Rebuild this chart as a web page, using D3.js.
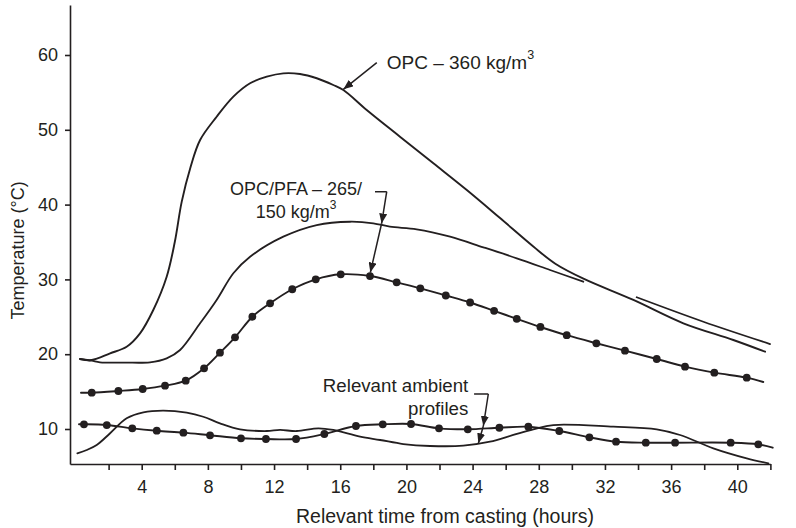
<!DOCTYPE html>
<html><head><meta charset="utf-8">
<script src="https://cdn.jsdelivr.net/npm/d3@7"></script>
<style>
body{margin:0;background:#fff}
svg{display:block}
text{font-family:"Liberation Sans",Arial,Helvetica,sans-serif;fill:#231f20}
</style>
</head><body>
<svg id="c" width="796" height="528"></svg>
<script>
// ---- data (time in hours, temperature in °C) ----
const opcTime=[0.27,0.98,2.09,3.09,3.90,4.70,5.51,6.0,6.42,6.95,7.53,8.53,9.54,10.55,11.56,12.56,13.57,14.58,15.58,16.19,17.60,19.61,21.63,23.65,25.66,27.67,29.0,30.7,33.72,36.74,39.76,41.68];
const opcTemp=[19.36,19.22,20.12,21.0,22.79,25.91,30.36,35.0,40.4,45.0,48.64,51.75,54.43,56.22,57.10,57.55,57.46,56.89,55.99,55.32,52.65,49.08,45.52,41.95,38.2,34.4,32.1,30.1,27.25,24.13,21.90,20.33];

const pfaTime1=[0.27,0.98,1.48,3.0,4.50,5.51,6.32,7.53,8.53,9.54,10.55,12.56,14.58,16.59,18.0,19.0,20.62,22.64,24.65,26.67,28.68,30.69];
const pfaTemp1=[19.36,19.13,18.92,18.88,18.92,19.45,20.56,24.13,27.25,30.82,33.03,35.71,37.27,37.71,37.5,37.05,36.70,35.71,34.29,32.82,31.26,29.69];
const pfaTime2=[33.92,37.95,41.98];
const pfaTemp2=[27.61,24.34,21.36];

const dotTime=[0.98,2.59,4.06,5.41,6.66,7.77,8.73,9.64,10.69,11.76,13.10,14.52,16.03,17.80,19.41,20.84,22.38,23.85,25.30,26.67,28.10,29.69,31.48,33.21,35.13,36.84,38.61,40.57];
const dotTemp=[14.85,15.08,15.35,15.79,16.46,18.11,20.20,22.26,25.01,26.80,28.68,30.01,30.68,30.45,29.61,28.81,27.85,26.91,25.80,24.73,23.64,22.54,21.46,20.47,19.36,18.33,17.53,16.86];
const dotLineStart=[0.33,14.85];
const dotLineEnd=[41.57,16.28];

const ambDotTime=[0.51,1.89,3.43,4.91,6.52,8.13,10.0,11.51,13.33,15.04,16.95,18.57,20.28,21.97,23.71,25.62,27.37,29.24,31.06,32.67,34.47,36.24,39.6,41.27];
const ambDotTemp=[10.63,10.53,10.09,9.77,9.51,9.16,8.76,8.66,8.66,9.33,10.40,10.63,10.67,10.09,9.96,10.17,10.31,9.73,8.89,8.30,8.17,8.17,8.17,7.95];
const ambDotLineStart=[0.21,10.63];
const ambDotLineEnd=[42.14,7.50];

const ambTime=[0.11,0.68,1.28,2.09,3.09,4.10,5.31,6.72,7.72,8.73,9.94,11.56,12.36,13.37,14.68,15.58,17.20,18.41,19.81,21.43,23.44,25.05,26.46,27.67,28.88,32.51,35.13,36.54,38.55,40.57,41.88];
const ambTemp=[6.75,7.19,7.86,9.43,11.43,12.23,12.45,12.18,11.64,10.76,9.96,9.73,9.87,9.73,10.09,9.87,8.97,8.53,7.99,7.73,7.77,8.30,9.20,9.96,10.53,10.31,9.96,9.20,7.42,6.08,5.41];

const xTicks=[2,4,6,8,10,12,14,16,18,20,22,24,26,28,30,32,34,36,38,40,42];
const yTicks=[10,20,30,40,50,60];
const xTitle="Relevant time from casting (hours)";
const yTitle="Temperature (°C)";

// annotations (data units)
const opcArrow=[[18.21,58.97],[16.19,55.41]];
const opcLabelPos=[18.81,59.1];
const pfaLabelPos=[13.33,42.18,39.05];
const pfaBracket=[[18.1,41.72],[18.81,41.72],[18.5,37.47],[17.82,30.92]];
const ambLabelPos=[23.74,15.79,12.77];
const ambBracket=[[24.09,14.68],[24.95,14.68],[24.65,10.4],[24.35,8.09]];

// ---- scales ----
const x0=d3.scaleLinear().domain([4,40]).range([141.7,737.3]);
const x=d3.scaleLinear().domain([x0.invert(70),x0.invert(770.4)]).range([70,770.4]);
const y0=d3.scaleLinear().domain([10,60]).range([429,55]);
const y=d3.scaleLinear().domain([y0.invert(464),y0.invert(5)]).range([464,5]);

const svg=d3.select("#c");
const ink="#231f20";
const FS=18;

svg.append("defs").append("marker")
  .attr("id","ah").attr("viewBox","0 0 10 8").attr("refX",10).attr("refY",4)
  .attr("markerWidth",10).attr("markerHeight",8).attr("markerUnits","userSpaceOnUse")
  .attr("orient","auto")
  .append("path").attr("d","M0,0L10,4L0,8Z").attr("fill",ink);

// axes
const xa=svg.append("g").attr("transform",`translate(0,${y.range()[0]})`)
  .call(d3.axisBottom(x).tickValues(xTicks).tickSize(6).tickSizeOuter(0).tickPadding(10)
    .tickFormat(d=>d%4===0?d:""));
const ya=svg.append("g").attr("transform",`translate(${x.range()[0]},0)`)
  .call(d3.axisLeft(y).tickValues(yTicks).tickSize(5).tickSizeOuter(0).tickPadding(7));
[xa,ya].forEach(g=>{
  g.selectAll("path,line").attr("stroke",ink).attr("stroke-width",1.6);
  g.selectAll("text").attr("font-size",FS).attr("fill",ink).attr("font-family",null);
});

svg.append("text").attr("x",445).attr("y",523).attr("text-anchor","middle")
  .attr("font-size",19.5).text(xTitle);
svg.append("text").attr("transform","translate(24,250.5) rotate(-90)").attr("text-anchor","middle")
  .attr("font-size",FS).text(yTitle);

// lines
const line=d3.line().x(d=>x(d[0])).y(d=>y(d[1])).curve(d3.curveCatmullRom.alpha(0.5));
const zip=(a,b)=>a.map((v,i)=>[v,b[i]]);
function draw(pts,w){
  svg.append("path").datum(pts).attr("d",line).attr("fill","none")
    .attr("stroke",ink).attr("stroke-width",w).attr("stroke-linejoin","round").attr("stroke-linecap","round");
}
draw(zip(opcTime,opcTemp),1.9);
draw(zip(pfaTime1,pfaTemp1),1.8);
draw(zip(pfaTime2,pfaTemp2),1.8);
draw([dotLineStart,...zip(dotTime,dotTemp),dotLineEnd],1.9);
draw([ambDotLineStart,...zip(ambDotTime,ambDotTemp),ambDotLineEnd],1.9);
draw(zip(ambTime,ambTemp),1.8);

function dots(pts){
  svg.append("g").selectAll("circle").data(pts).join("circle")
    .attr("cx",d=>x(d[0])).attr("cy",d=>y(d[1])).attr("r",3.9).attr("fill",ink);
}
dots(zip(dotTime,dotTemp));
dots(zip(ambDotTime,ambDotTemp));

// annotations
function seg(a,b,arrow){
  const l=svg.append("line").attr("x1",x(a[0])).attr("y1",y(a[1])).attr("x2",x(b[0])).attr("y2",y(b[1]))
    .attr("stroke",ink).attr("stroke-width",1.5);
  if(arrow) l.attr("marker-end","url(#ah)");
}
seg(opcArrow[0],opcArrow[1],true);
const t1=svg.append("text").attr("x",x(opcLabelPos[0])).attr("y",y(opcLabelPos[1])).attr("dy","0.36em")
  .attr("font-size",19);
t1.append("tspan").text("OPC – 360 kg/m");
t1.append("tspan").attr("font-size",12.5).attr("dy","-0.75em").text("3");

svg.append("text").attr("x",x(pfaLabelPos[0])).attr("y",y(pfaLabelPos[1])).attr("dy","0.36em")
  .attr("text-anchor","middle").attr("font-size",FS).text("OPC/PFA – 265/");
const t2=svg.append("text").attr("x",x(pfaLabelPos[0])).attr("y",y(pfaLabelPos[2])).attr("dy","0.36em")
  .attr("text-anchor","middle").attr("font-size",FS);
t2.append("tspan").text("150 kg/m");
t2.append("tspan").attr("font-size",12).attr("dy","-0.75em").text("3");
seg(pfaBracket[0],pfaBracket[1],false);
seg(pfaBracket[1],pfaBracket[2],true);
seg(pfaBracket[2],pfaBracket[3],true);

svg.append("text").attr("x",x(ambLabelPos[0])).attr("y",y(ambLabelPos[1])).attr("dy","0.36em")
  .attr("text-anchor","end").attr("font-size",18.7).text("Relevant ambient");
svg.append("text").attr("x",x(ambLabelPos[0])).attr("y",y(ambLabelPos[2])).attr("dy","0.36em")
  .attr("text-anchor","end").attr("font-size",18.7).text("profiles");
seg(ambBracket[0],ambBracket[1],false);
seg(ambBracket[1],ambBracket[2],true);
seg(ambBracket[2],ambBracket[3],true);
</script>
</body></html>
